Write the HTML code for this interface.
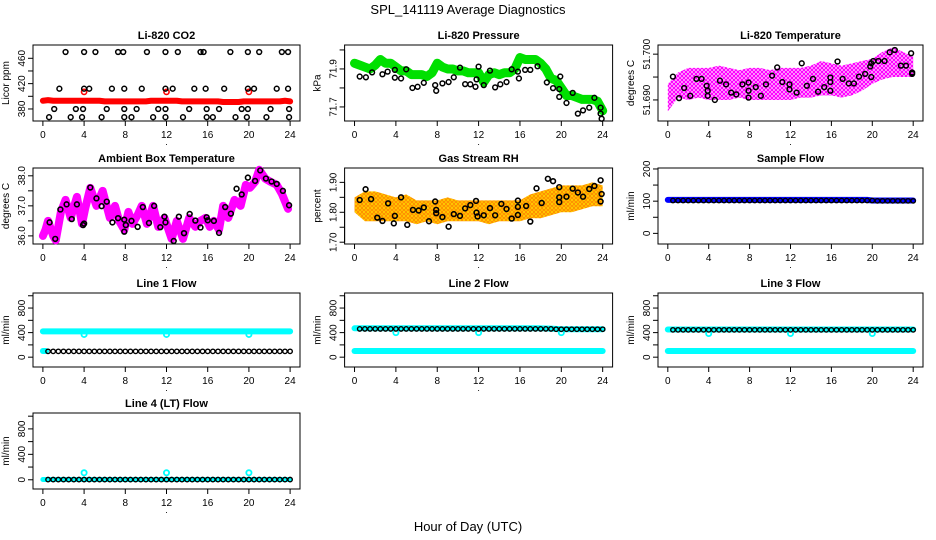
<!DOCTYPE html>
<html><head><meta charset="utf-8"><style>
html,body{margin:0;padding:0;background:#fff}
svg{display:block;font-family:"Liberation Sans",sans-serif}
</style></head><body>
<svg id="chart" width="936" height="540" viewBox="0 0 936 540" xmlns="http://www.w3.org/2000/svg">
<defs>
<pattern id="magpat" width="4" height="4" patternUnits="userSpaceOnUse"><rect width="4" height="4" fill="#fff"/><circle cx="2" cy="2" r="1.5" fill="none" stroke="#ff00ff" stroke-width="1.3"/></pattern>
<pattern id="rhpat" width="4" height="4" patternUnits="userSpaceOnUse"><rect width="4" height="4" fill="#ffee00"/><circle cx="2" cy="2" r="1.4" fill="none" stroke="#ff8c00" stroke-width="1.2"/></pattern>
</defs>
<text x="468" y="14" text-anchor="middle" font-size="13">SPL_141119  Average Diagnostics</text>
<text x="468" y="531" text-anchor="middle" font-size="13">Hour of Day (UTC)</text>
</svg>
<script>
// ---- data ----
const co2Hours=[0,0.5,1,1.5,2,2.5,3,3.5,4,4.5,5,5.5,6,6.5,7,7.5,8,8.5,9,9.5,10,10.5,11,11.5,12,12.5,13,13.5,14,14.5,15,15.5,16,16.5,17,17.5,18,18.5,19,19.5,20,20.5,21,21.5,22,22.5,23,23.5,24];
const co2Red=[393,394,393,393,393,393,393,393,393,393,393,393,392,392,392,392,392,392,392,392,392,393,393,393,393,393,393,392,392,392,392,392,392,392,392,391,391,391,391,392,392,392,392,392,392,392,392,393,392];
const co2RedOutHours=[4,12,20];
const co2RedOutVals=[407,407,407];
const co2BlackHours=[2.2,4.0,5.1,7.3,7.8,10.1,11.9,13.1,15.3,15.6,18.2,19.9,21.0,23.2,23.8,1.6,4.0,4.5,6.7,7.9,9.6,11.9,12.6,14.7,15.8,17.6,19.9,20.5,22.7,23.8,1.1,3.2,3.9,6.2,7.9,9.1,11.2,11.9,14.2,15.9,17.1,19.3,19.9,22.1,23.9,0.6,2.7,3.8,5.7,7.9,8.6,10.7,11.9,13.6,15.9,16.5,18.7,19.8,21.7,23.9];
const co2BlackVals=[470,470,470,470,470,470,470,470,470,470,470,470,470,470,470,412,412,412,412,412,412,412,412,412,412,412,412,412,412,412,380,380,380,380,380,380,380,380,380,380,380,380,380,380,380,367,367,367,367,367,367,367,367,367,367,367,367,367,367,367];
const presHours=co2Hours;
const presGreen=[71.93,71.92,71.91,71.90,71.92,71.95,71.93,71.93,71.91,71.89,71.89,71.87,71.87,71.87,71.86,71.88,71.93,71.91,71.90,71.90,71.89,71.89,71.88,71.88,71.88,71.83,71.87,71.88,71.87,71.88,71.88,71.90,71.96,71.95,71.95,71.95,71.93,71.90,71.85,71.84,71.80,71.76,71.76,71.75,71.74,71.74,71.74,71.73,71.68];
const presBlackHours=[0.5,1.1,1.7,2.7,3.2,3.9,3.9,4.5,5.0,5.6,6.1,6.7,7.8,7.9,8.5,9.1,9.6,10.2,10.7,11.2,11.7,11.8,12.0,12.5,13.1,13.6,14.1,14.7,15.2,15.8,15.9,16.5,17.0,17.7,18.6,19.2,19.8,19.8,19.9,20.5,21.1,21.6,22.1,22.7,23.2,23.8,23.8,23.9];
const presBlackVals=[71.86,71.856,71.882,71.872,71.886,71.895,71.854,71.85,71.898,71.80,71.806,71.827,71.815,71.785,71.824,71.831,71.856,71.907,71.82,71.819,71.806,71.845,71.912,71.815,71.891,71.803,71.819,71.831,71.898,71.886,71.85,71.895,71.895,71.914,71.829,71.799,71.794,71.753,71.86,71.721,71.774,71.665,71.682,71.696,71.748,71.696,71.665,71.638];
const bandHours=[0,1,2,3,4,5,6,7,8,9,10,11,12,13,14,15,16,17,18,19,20,21,22,23,24];
const tempUpper=[51.6935,51.696,51.697,51.697,51.697,51.6975,51.697,51.6965,51.697,51.697,51.6965,51.697,51.697,51.697,51.6975,51.6985,51.698,51.6975,51.698,51.6985,51.699,51.7005,51.7015,51.7005,51.6995];
const tempLower=[51.6875,51.6905,51.690,51.6905,51.690,51.690,51.690,51.6905,51.690,51.690,51.690,51.690,51.690,51.6905,51.6905,51.691,51.691,51.6905,51.691,51.692,51.6935,51.6945,51.695,51.695,51.695];
const tempBlackHours=[0.5,1.1,1.6,2.2,2.8,3.3,3.8,3.9,3.9,4.6,5.1,5.7,6.2,6.7,7.3,7.9,7.9,7.9,8.6,9.1,9.6,10.2,10.7,11.2,11.9,11.9,12.6,13.1,13.6,14.2,14.7,15.3,15.9,15.9,15.9,16.6,17.1,17.7,18.2,18.7,19.3,19.8,19.9,19.9,20.1,20.6,21.2,21.7,22.2,22.8,23.3,23.8,23.9,23.9];
const tempBlackVals=[51.6951,51.6904,51.6926,51.6909,51.6946,51.6946,51.6931,51.692,51.6909,51.690,51.6942,51.6934,51.6916,51.6912,51.6934,51.6938,51.692,51.6905,51.6928,51.6909,51.6934,51.6953,51.6971,51.6939,51.6934,51.6923,51.6916,51.698,51.6931,51.6946,51.6918,51.6928,51.6949,51.6939,51.692,51.6984,51.6946,51.6936,51.6936,51.6951,51.6957,51.6973,51.695,51.698,51.6985,51.6985,51.6985,51.7004,51.7009,51.6975,51.6975,51.7002,51.696,51.6957];
const ambHours=[0,0.25,0.5,1,1.25,1.75,2.2,2.7,3.3,3.8,4.1,4.6,5.2,5.8,6.5,7.0,7.4,7.9,8.3,8.7,9.2,9.6,10.1,10.7,11.2,11.8,12.5,13.0,13.6,14.2,14.8,15.3,15.8,16.2,16.6,17.1,17.5,18.0,18.6,19.2,19.7,20.1,20.6,21.0,21.6,22.1,22.7,23.2,23.8];
const ambMag=[36.0,36.2,36.5,36.0,35.85,36.8,37.2,36.6,37.3,36.4,36.9,37.6,37.0,37.5,36.6,37.0,36.5,36.2,36.8,36.4,36.7,37.0,36.4,37.0,36.3,36.6,35.9,36.5,35.9,36.6,36.3,36.5,36.6,36.3,36.5,36.2,37.0,36.6,37.2,37.0,37.7,37.6,37.8,38.2,37.9,37.8,37.7,37.4,36.9];
const ambBlackHours=[0.65,1.2,1.7,2.3,2.8,3.3,3.9,4.0,4.6,5.2,5.7,6.2,6.75,7.3,7.9,7.9,8.05,8.6,9.2,9.7,10.3,10.8,11.4,11.8,11.9,12.7,13.2,13.7,14.25,14.8,15.3,15.9,16.0,16.6,17.1,17.7,18.25,18.8,19.3,19.9,20.6,21.1,21.65,22.2,22.7,23.3,23.9];
const ambBlackVals=[36.45,35.9,36.88,37.05,36.56,37.05,36.36,36.41,37.61,37.25,36.99,37.14,36.45,36.59,36.54,36.14,36.36,36.5,36.3,36.96,36.43,37.0,36.29,36.64,36.45,35.83,36.64,36.09,36.73,36.51,36.28,36.62,36.52,36.5,36.1,36.96,36.74,37.57,37.38,37.94,37.83,38.18,37.91,37.81,37.73,37.5,37.02];
const rhUpper=[1.85,1.87,1.87,1.86,1.85,1.86,1.84,1.84,1.84,1.85,1.84,1.84,1.84,1.84,1.84,1.84,1.84,1.86,1.87,1.88,1.89,1.89,1.89,1.90,1.89];
const rhLower=[1.80,1.77,1.77,1.77,1.77,1.77,1.76,1.77,1.76,1.77,1.77,1.77,1.77,1.76,1.77,1.77,1.77,1.78,1.78,1.79,1.80,1.80,1.81,1.82,1.82];
const rhBlackHours=[0.5,1.07,1.6,2.2,2.7,3.25,3.8,3.9,4.5,5.1,5.65,6.2,6.7,7.2,7.8,7.9,7.9,8.5,9.1,9.6,10.2,10.7,11.2,11.75,11.8,11.9,12.5,13.1,13.6,14.2,14.7,15.2,15.8,15.8,15.8,16.6,17.0,17.6,18.1,18.7,19.2,19.8,19.8,19.8,20.5,21.1,21.6,22.1,22.7,23.2,23.8,23.9,23.8];
const rhBlackVals=[1.841,1.877,1.844,1.782,1.771,1.83,1.763,1.788,1.85,1.758,1.808,1.806,1.816,1.77,1.836,1.808,1.797,1.784,1.752,1.794,1.788,1.813,1.824,1.838,1.799,1.786,1.79,1.814,1.79,1.828,1.811,1.779,1.839,1.818,1.791,1.821,1.769,1.88,1.831,1.912,1.904,1.884,1.85,1.834,1.852,1.879,1.866,1.852,1.878,1.888,1.907,1.861,1.836];
const flowHours=[0.5,1,1.5,2,2.5,3,3.5,4,4.5,5,5.5,6,6.5,7,7.5,8,8.5,9,9.5,10,10.5,11,11.5,12,12.5,13,13.5,14,14.5,15,15.5,16,16.5,17,17.5,18,18.5,19,19.5,20,20.5,21,21.5,22,22.5,23,23.5,24];
const sampleBlue=[104,104,104,104,104,104,104,104,104,104,104,104,104,104,104,104,104,104,104,104,104,104,104,104,104,104,104,104,104,104,104,104,104,104,104,104,104,104,104,104,102,102,102,102,102,102,102,102,102];
const sampleBlack=[102,102,102,102,102,102,102,102,102,102,102,102,102,102,102,102,102,102,102,102,102,102,102,102,102,102,102,102,102,102,102,102,102,102,102,102,102,102,102,102,101,101,101,101,101,101,101,101];
const dipHours=[4,12,20];
const line1Cyan=[420,420,420,420,420,420,420,420,420,420,420,420,420,420,420,420,420,420,420,420,420,420,420,420,420];
const line1Dips=[370,370,370];
const line1Black=[95,95,95,95,95,95,95,95,95,95,95,95,95,95,95,95,95,95,95,95,95,95,95,95,95,95,95,95,95,95,95,95,95,95,95,95,95,95,95,95,95,95,95,95,95,95,95,95];
const line2CyanHigh=[470,470,470,470,470,470,470,470,470,470,470,470,470,470,470,470,470,470,470,465,455,455,455,455,455];
const line2CyanLow=[100,100,100,100,100,100,100,100,100,100,100,100,100,100,100,100,100,100,100,100,100,100,100,100,100];
const line2Dips=[400,400,400];
const line2Black=[460,460,460,460,460,460,460,460,460,460,460,460,460,460,460,460,460,460,460,460,460,460,460,460,460,460,460,460,460,460,460,460,460,460,460,460,460,460,455,455,455,455,455,455,455,455,455,455];
const line3CyanHigh=[450,450,450,450,450,450,450,450,450,450,450,450,450,450,450,450,450,450,450,450,450,450,450,450,450];
const line3CyanLow=[100,100,100,100,100,100,100,100,100,100,100,100,100,100,100,100,100,100,100,100,100,100,100,100,100];
const line3Dips=[385,385,385];
const line3Black=[445,445,445,445,445,445,445,445,445,445,445,445,445,445,445,445,445,445,445,445,445,445,445,445,445,445,445,445,445,445,445,445,445,445,445,445,445,445,445,445,445,445,445,445,445,445,445,445];
const line4Cyan=[5,5,5,5,5,5,5,5,5,5,5,5,5,5,5,5,5,5,5,5,5,5,5,5,5];
const line4Dips=[110,110,110];
const line4Black=[3,3,3,3,3,3,3,3,3,3,3,3,3,3,3,3,3,3,3,3,3,3,3,3,3,3,3,3,3,3,3,3,3,3,3,3,3,3,3,3,3,3,3,3,3,3,3,3];
const xTicks=[0,4,8,12,16,20,24];
const flowTicks=[0,200,400,600,800,1000];
const flowLabels=["0","","400","","800",""];

// ---- drawing ----
const svg=document.getElementById('chart');
const NS='http://www.w3.org/2000/svg';
function mk(tag,attrs,parent){const e=document.createElementNS(NS,tag);for(const k in attrs)e.setAttribute(k,attrs[k]);(parent||svg).appendChild(e);return e;}
const COLS=[[33,300],[344.6,612.6],[658,923]];
const ROWS=[[45,121],[168,244],[293,367],[413,489]];

function makePanel(col,row,title,ylab,ylim,ticks,labels,name){
  const [bx0,bx1]=COLS[col],[by0,by1]=ROWS[row];
  const g=mk('g',{});
  
  
  const sx=h=>bx0+(h+0.96)/25.92*(bx1-bx0);
  const sy=v=>by1-(v-ylim[0])/(ylim[1]-ylim[0])*(by1-by0);
  const t=mk('text',{x:(bx0+bx1)/2,y:by0-6,'text-anchor':'middle','font-size':11,'font-weight':'bold'},g);
  t.textContent=title;
  
  
  const yl=mk('text',{x:0,y:0,'text-anchor':'middle','font-size':10,transform:`translate(${bx0-24},${(by0+by1)/2}) rotate(-90)`},g);
  yl.textContent=ylab;
  
  
  const box=mk('rect',{x:bx0,y:by0,width:bx1-bx0,height:by1-by0,fill:'none',stroke:'#000','stroke-width':1},g);
  
  
  const xa=mk('g',{},g);
  
  
  mk('line',{x1:sx(0),x2:sx(24),y1:by1,y2:by1,stroke:'#000'},xa);
  xTicks.forEach(h=>{mk('line',{x1:sx(h),x2:sx(h),y1:by1,y2:by1+5,stroke:'#000'},xa);
    const l=mk('text',{x:sx(h),y:by1+17,'text-anchor':'middle','font-size':10},xa);l.textContent=h;});
  const dot=mk('text',{x:(bx0+bx1)/2,y:by1+24,'text-anchor':'middle','font-size':9},g);dot.textContent='.';
  const ya=mk('g',{},g);
  
  
  mk('line',{x1:bx0,x2:bx0,y1:sy(ticks[0]),y2:sy(ticks[ticks.length-1]),stroke:'#000'},ya);
  ticks.forEach((v,i)=>{mk('line',{x1:bx0-5,x2:bx0,y1:sy(v),y2:sy(v),stroke:'#000'},ya);
    if(labels[i]){const l=mk('text',{x:0,y:0,'text-anchor':'middle','font-size':10,transform:`translate(${bx0-8},${sy(v)}) rotate(-90)`},ya);l.textContent=labels[i];}});
  const clip='clip'+name;
  const cp=mk('clipPath',{id:clip},g);mk('rect',{x:bx0,y:by0-4,width:bx1-bx0,height:by1-by0+8},cp);
  const data=mk('g',{'clip-path':`url(#${clip})`},g);
  return {sx,sy,g:data,name};
}
function band(p,hs,vs,color,w,nm){
  const pl=mk('polyline',{points:hs.map((h,i)=>p.sx(h)+','+p.sy(vs[i])).join(' '),fill:'none',stroke:color,'stroke-width':w,'stroke-linejoin':'round','stroke-linecap':'round'},p.g);
  
  
}
function area(p,hs,up,lo,fill,nm){
  const pts=hs.map((h,i)=>p.sx(h)+','+p.sy(up[i])).concat(hs.map((h,i)=>p.sx(h)+','+p.sy(lo[i])).reverse());
  const pg=mk('polygon',{points:pts.join(' '),fill:fill,stroke:'none'},p.g);
  
  
}
function pts(p,hs,vs,color,r,sw,nm){
  const gg=mk('g',{},p.g);
  
  
  hs.forEach((h,i)=>mk('circle',{cx:p.sx(h),cy:p.sy(vs[i]),r:r,fill:'none',stroke:color,'stroke-width':sw},gg));
}

let p;
p=makePanel(0,0,'Li-820 CO2','Licor ppm',[361,481],[380,400,420,440,460],['380','','420','','460'],'co2');
band(p,co2Hours,co2Red,'#ff0000',6,'red-series');
pts(p,co2RedOutHours,co2RedOutVals,'#ff0000',2.6,1.6,'red-outliers');
pts(p,co2BlackHours,co2BlackVals,'#000',2.4,1.5,'black-points');

p=makePanel(1,0,'Li-820 Pressure','kPa',[71.626,72.026],[71.7,71.8,71.9,72.0],['71.7','','71.9',''],'pressure');
band(p,presHours,presGreen,'#00e000',9,'green-series');
pts(p,presBlackHours,presBlackVals,'#000',2.4,1.5,'black-points');

p=makePanel(2,0,'Li-820 Temperature','degrees C',[51.6854,51.702],[51.69,51.695,51.70],['51.690','','51.700'],'temperature');
area(p,bandHours,tempUpper,tempLower,'url(#magpat)','magenta-series');
pts(p,tempBlackHours,tempBlackVals,'#000',2.4,1.5,'black-points');

p=makePanel(0,1,'Ambient Box Temperature','degrees C',[35.73,38.26],[36,36.5,37,37.5,38],['36.0','','37.0','','38.0'],'ambient');
band(p,ambHours,ambMag,'#ff00ff',8,'magenta-series');
pts(p,ambBlackHours,ambBlackVals,'#000',2.4,1.6,'black-points');

p=makePanel(1,1,'Gas Stream RH','percent',[1.694,1.948],[1.70,1.75,1.80,1.85,1.90],['1.70','','1.80','','1.90'],'rh');
area(p,bandHours,rhUpper,rhLower,'url(#rhpat)','orange-series');
pts(p,rhBlackHours,rhBlackVals,'#000',2.4,1.6,'black-points');

p=makePanel(2,1,'Sample Flow','ml/min',[-33,203],[0,50,100,150,200],['0','','100','','200'],'sample-flow');
band(p,co2Hours,sampleBlue,'#0000ff',6,'blue-series');
pts(p,flowHours,sampleBlack,'#000',2.2,1.4,'black-points');

p=makePanel(0,2,'Line 1 Flow','ml/min',[-160,1045],flowTicks,flowLabels,'line1-flow');
band(p,bandHours,line1Cyan,'#00ffff',6,'cyan-series');
pts(p,dipHours,line1Dips,'#00ffff',2.6,1.8,'cyan-dips');
band(p,[0,0.3],[100,100],'#00ffff',6,'cyan-low');
pts(p,flowHours,line1Black,'#000',2.2,1.4,'black-points');

p=makePanel(1,2,'Line 2 Flow','ml/min',[-160,1045],flowTicks,flowLabels,'line2-flow');
band(p,bandHours,line2CyanHigh,'#00ffff',6,'cyan-high');
band(p,bandHours,line2CyanLow,'#00ffff',6,'cyan-low');
pts(p,dipHours,line2Dips,'#00ffff',2.6,1.8,'cyan-dips');
pts(p,flowHours,line2Black,'#000',2.2,1.4,'black-points');

p=makePanel(2,2,'Line 3 Flow','ml/min',[-160,1045],flowTicks,flowLabels,'line3-flow');
band(p,bandHours,line3CyanHigh,'#00ffff',6,'cyan-high');
band(p,bandHours,line3CyanLow,'#00ffff',6,'cyan-low');
pts(p,dipHours,line3Dips,'#00ffff',2.6,1.8,'cyan-dips');
pts(p,flowHours,line3Black,'#000',2.2,1.4,'black-points');

p=makePanel(0,3,'Line 4 (LT) Flow','ml/min',[-145,1050],flowTicks,flowLabels,'line4-flow');
band(p,bandHours,line4Cyan,'#00ffff',5,'cyan-series');
pts(p,dipHours,line4Dips,'#00ffff',2.6,1.8,'cyan-dips');
pts(p,flowHours,line4Black,'#000',2.2,1.4,'black-points');
</script>
</body></html>
